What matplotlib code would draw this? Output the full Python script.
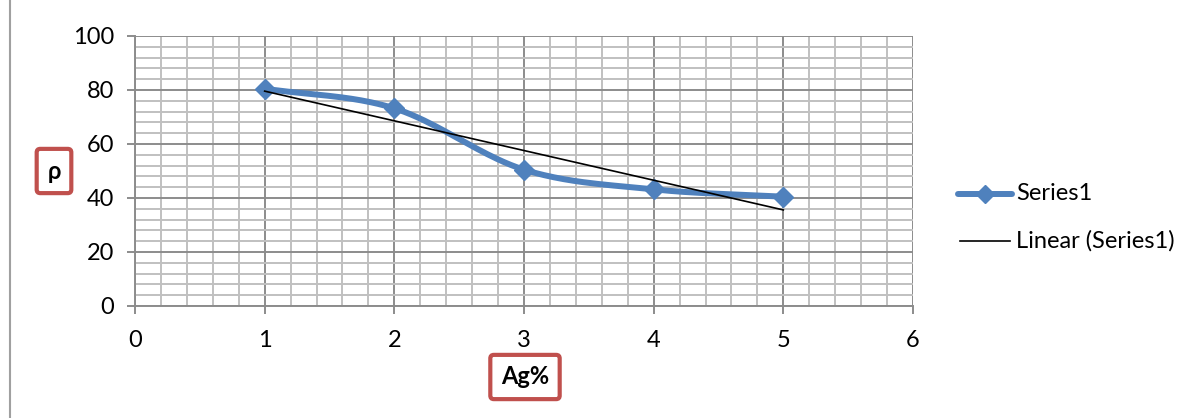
import matplotlib.pyplot as plt
import numpy as np
from matplotlib.lines import Line2D

# values
ag_pct = [1, 2, 3, 4, 5]
rho = [80.5, 73.2, 50.5, 43.2, 40.5]

x_ticks = [0, 1, 2, 3, 4, 5, 6]
y_ticks = [0, 20, 40, 60, 80, 100]

blue = "#4F81BD"
major_grid = "#8C8C8C"
minor_grid = "#C0C0C0"
font = "Lato"
fsize = 17


def smooth_line(xs, ys, n=40):
    # Catmull-Rom spline through the points, like Excel's smoothed line
    xs = np.asarray(xs, float)
    ys = np.asarray(ys, float)
    px = np.concatenate([[2 * xs[0] - xs[1]], xs, [2 * xs[-1] - xs[-2]]])
    py = np.concatenate([[2 * ys[0] - ys[1]], ys, [2 * ys[-1] - ys[-2]]])
    out_x, out_y = [], []
    t = np.linspace(0, 1, n)
    for i in range(1, len(px) - 2):
        for arr, out in ((px, out_x), (py, out_y)):
            p0, p1, p2, p3 = arr[i - 1], arr[i], arr[i + 1], arr[i + 2]
            seg = 0.5 * ((2 * p1) + (-p0 + p2) * t
                         + (2 * p0 - 5 * p1 + 4 * p2 - p3) * t ** 2
                         + (-p0 + 3 * p1 - 3 * p2 + p3) * t ** 3)
            out.extend(seg)
    return np.array(out_x), np.array(out_y)


plt.rcParams["font.family"] = [font, "DejaVu Sans"]

fig = plt.figure(figsize=(11.97, 4.18), dpi=100)
ax = fig.add_axes([135 / 1197, 1 - 306 / 418, (913 - 135) / 1197, (306 - 36) / 418])

ax.set_xlim(0, 6)
ax.set_ylim(0, 100)
ax.set_xticks(x_ticks)
ax.set_yticks(y_ticks)
ax.set_xticks(np.arange(0, 6.01, 0.2), minor=True)
ax.set_yticks(np.arange(0, 100.1, 4), minor=True)
ax.grid(which="minor", color=minor_grid, linewidth=1.4)
ax.grid(which="major", color=major_grid, linewidth=1.4)
ax.set_axisbelow(True)

for side in ["top", "right"]:
    ax.spines[side].set_visible(False)
for side in ["left", "bottom"]:
    ax.spines[side].set_color(major_grid)
    ax.spines[side].set_linewidth(1.4)

ax.tick_params(which="major", length=6, width=1.4, color=major_grid,
               labelsize=fsize, pad=9)
ax.tick_params(which="minor", length=0)
ax.tick_params(axis="x", pad=11)

sx, sy = smooth_line(ag_pct, rho)
ax.plot(sx, sy, color=blue, linewidth=4.3, solid_capstyle="round", zorder=3)
ax.plot(ag_pct, rho, linestyle="none", marker="D", markersize=10,
        color=blue, zorder=4, clip_on=False)

coef = np.polyfit(ag_pct, rho, 1)
fit_x = np.array([ag_pct[0], ag_pct[-1]])
ax.plot(fit_x, np.polyval(coef, fit_x), color="black", linewidth=1.2, zorder=5)

# legend drawn by hand to match placement
fig.add_artist(Line2D([958 / 1197, 1012 / 1197], [1 - 194 / 418] * 2,
                      color=blue, linewidth=4.3, solid_capstyle="round"))
fig.add_artist(Line2D([985 / 1197], [1 - 194 / 418], marker="D",
                      markersize=9, color=blue))
fig.text(1016 / 1197, 1 - 194 / 418, "Series1", fontsize=fsize, va="center")
fig.add_artist(Line2D([960 / 1197, 1010 / 1197], [1 - 241 / 418] * 2,
                      color="black", linewidth=1.2))
fig.text(1016 / 1197, 1 - 241 / 418, "Linear (Series1)", fontsize=fsize,
         va="center")

# boxed axis titles
box = dict(boxstyle="round,pad=0.45,rounding_size=0.15", facecolor="white",
           edgecolor="#C0504D", linewidth=3)
fig.text(54 / 1197, 1 - 171 / 418, "ρ", fontsize=fsize, fontweight="bold",
         ha="center", va="center", bbox=box)
fig.text(525 / 1197, 1 - 377 / 418, "Ag%", fontsize=fsize, fontweight="bold",
         ha="center", va="center", bbox=box)

# thin page border line at the left edge
fig.add_artist(Line2D([10 / 1197] * 2, [0, 1], color="#A0A0A0", linewidth=1.5))

fig.savefig("out.png", dpi=100)
